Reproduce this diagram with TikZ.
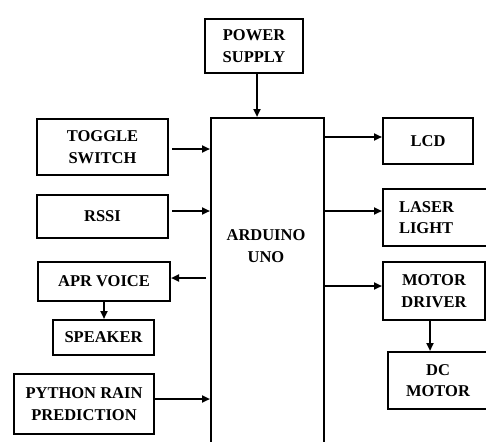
\documentclass[tikz,border=0pt]{standalone}
\usepackage{fontspec}
\setmainfont{Liberation Serif}
\usetikzlibrary{arrows.meta,positioning,calc}

\begin{document}
\begin{tikzpicture}[x=1pt,y=-1pt,
  lbl/.style={align=center,inner sep=0pt,font=\fontsize{16.5}{21.5}\selectfont\bfseries},
  blk/.style={lbl,draw,line width=2pt,anchor=north west},
  ar/.style={-{Triangle[length=8pt,width=7pt]},line width=2pt}]

 \useasboundingbox (0,0) rectangle (486,441);
 \clip (0,0) rectangle (486,441);

 % controller in the middle, runs off the page
 \node[blk,minimum width=113,minimum height=340] (uno) at (210,117) {};
 \node[lbl] (unotxt) at (266,246) {ARDUINO\\UNO};

 % supply on top
 \node[blk,minimum width=98,minimum height=54] (power) at (204,18) {POWER\\SUPPLY};

 % left column
 \node[blk,minimum width=131,minimum height=56] (toggle) at (36,118) {TOGGLE\\SWITCH};
 \node[blk,minimum width=131,minimum height=43] (rssi) at (36,194) {RSSI};
 \node[blk,minimum width=132,minimum height=39] (apr) at (37,261) {APR VOICE};
 \node[blk,minimum width=101,minimum height=35] (speaker) at (52,319) {SPEAKER};
 \node[blk,minimum width=140,minimum height=60] (python) at (13,373) {PYTHON RAIN\\PREDICTION};

 % right column
 \node[blk,minimum width=90,minimum height=46] (lcd) at (382,117) {LCD};
 \node[blk,minimum width=115,minimum height=57,align=left,text width=83,inner xsep=16] (laser) at (382,188) {LASER\\LIGHT};
 \node[blk,minimum width=102,minimum height=58] (driver) at (382,261) {MOTOR\\DRIVER};
 \node[blk,minimum width=100,minimum height=57] (dcmotor) at (387,351) {DC\\MOTOR};

 % connections
 \draw[ar] ($(power.south)+(3,0)$) -- ($(power.south |- uno.north)+(3,0)$);
 \draw[ar] ($(toggle.east)+(3,2)$) -- ($(toggle.east -| uno.west)+(0,2)$);
 \draw[ar] ($(rssi.east)+(3,-5.5)$) -- ($(rssi.east -| uno.west)+(0,-5.5)$);
 \draw[ar] ($(apr.east -| uno.west)+(-4,-3.5)$) -- ($(apr.east)+(0,-3.5)$);
 \draw[ar] (apr.south) -- (apr.south |- speaker.north);
 \draw[ar] ($(python.east)+(0,-5)$) -- ($(python.east -| uno.west)+(0,-5)$);
 \draw[ar] ($(uno.east |- lcd.west)+(0,-4)$) -- ($(lcd.west)+(0,-4)$);
 \draw[ar] ($(uno.east |- laser.west)+(0,-6.5)$) -- ($(laser.west)+(0,-6.5)$);
 \draw[ar] ($(uno.east |- driver.west)+(0,-5)$) -- ($(driver.west)+(0,-5)$);
 \draw[ar] ($(driver.south)+(-4,0)$) -- ($(driver.south |- dcmotor.north)+(-4,0)$);
\end{tikzpicture}
\end{document}
